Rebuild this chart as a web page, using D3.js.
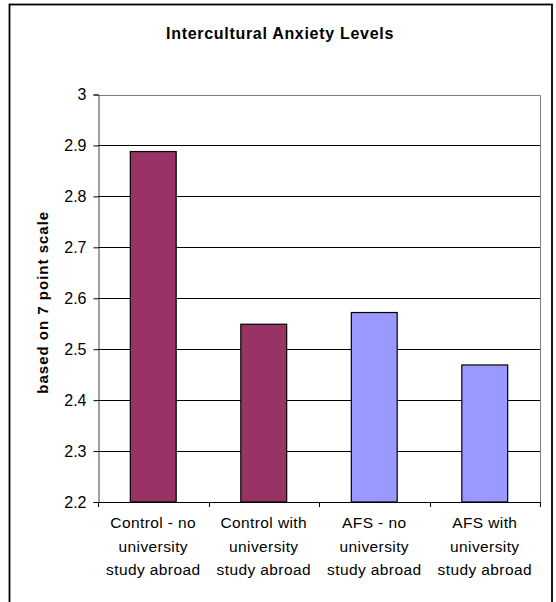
<!DOCTYPE html>
<html>
<head>
<meta charset="utf-8">
<script src="https://cdn.jsdelivr.net/npm/d3@7"></script>
<style>
  html, body { margin: 0; padding: 0; background: #fff; }
  svg { display: block; font-family: Arial, "Liberation Sans", sans-serif; }
</style>
</head>
<body>
<svg id="chart" width="556" height="602"></svg>
<script>
// Intercultural anxiety, mean score per group (7-point scale)
const categories = [
  ["Control - no", "university", "study abroad"],
  ["Control with", "university", "study abroad"],
  ["AFS - no", "university", "study abroad"],
  ["AFS with", "university", "study abroad"]
];
const values = [2.888, 2.549, 2.572, 2.469];
const barColors = ["#993366", "#993366", "#9999FF", "#9999FF"];
const yTicks = [2.2, 2.3, 2.4, 2.5, 2.6, 2.7, 2.8, 2.9, 3];
const title = "Intercultural Anxiety Levels";
const yTitle = "based on 7 point scale";

const svg = d3.select("#chart");
const plot = { left: 98, right: 540, top: 94.5, bottom: 502 };

// outer chart frame
svg.append("rect")
  .attr("x", 9.5).attr("y", 4.5)
  .attr("width", 542.5).attr("height", 620)
  .attr("fill", "#fff").attr("stroke", "#000").attr("stroke-width", 1.8);

const keys = categories.map((d, i) => i);
const xCat = d3.scaleBand().domain(keys).range([plot.left, plot.right]);
const xBar = d3.scaleBand().domain(keys).range([plot.left, plot.right])
  .paddingInner(0.585).paddingOuter(0.2925);
const y = d3.scaleLinear().domain([2.2, 3]).range([plot.bottom, plot.top]);

// gridlines
svg.append("g").selectAll("line").data(yTicks.filter(t => t > 2.2 && t < 3)).join("line")
  .attr("x1", plot.left).attr("x2", plot.right)
  .attr("y1", d => Math.round(y(d)) + 0.5).attr("y2", d => Math.round(y(d)) + 0.5)
  .attr("stroke", "#000").attr("stroke-width", 1);

// plot area border (top & right)
svg.append("path")
  .attr("d", `M${plot.left},${Math.round(plot.top) + 0.5}H${plot.right + 0.5}V${plot.bottom}`)
  .attr("fill", "none").attr("stroke", "#808080").attr("stroke-width", 1);

// bars
svg.append("g").selectAll("rect").data(values).join("rect")
  .attr("x", (d, i) => xBar(i))
  .attr("width", xBar.bandwidth())
  .attr("y", d => y(d))
  .attr("height", d => y(2.2) - y(d))
  .attr("fill", (d, i) => barColors[i])
  .attr("stroke", "#000").attr("stroke-width", 1.2);

// y axis
const yAxis = d3.axisLeft(y).tickValues(yTicks).tickSize(5).tickPadding(7)
  .tickFormat(d => d3.format("")(+d.toFixed(1)));
const gy = svg.append("g").attr("transform", `translate(${plot.left + 0.5},0)`).call(yAxis);
gy.select(".domain").attr("stroke", "#404040");
gy.selectAll(".tick line").attr("stroke", "#000");
gy.selectAll(".tick text").attr("font-size", 16).attr("fill", "#000")
  .attr("font-family", "Arial, 'Liberation Sans', sans-serif");

// x axis line and category boundary ticks
const gx = svg.append("g");
gx.append("line")
  .attr("x1", plot.left).attr("x2", plot.right + 0.5)
  .attr("y1", plot.bottom + 0.5).attr("y2", plot.bottom + 0.5)
  .attr("stroke", "#000");
const bounds = keys.map(k => xCat(k)).concat([xCat(keys[keys.length - 1]) + xCat.bandwidth()]);
gx.selectAll("line.tk").data(bounds).join("line").attr("class", "tk")
  .attr("x1", d => Math.round(d) + 0.5).attr("x2", d => Math.round(d) + 0.5)
  .attr("y1", plot.bottom).attr("y2", plot.bottom + 5)
  .attr("stroke", "#000");

// category labels
const lab = gx.selectAll("text.cat").data(categories).join("text").attr("class", "cat")
  .attr("text-anchor", "middle").attr("font-size", 15.5).attr("fill", "#000")
  .attr("letter-spacing", 0.4)
  .attr("transform", (d, i) => `translate(${xCat(i) + xCat.bandwidth() / 2},${plot.bottom + 26})`);
lab.selectAll("tspan").data(d => d).join("tspan")
  .attr("x", 0).attr("dy", (d, j) => j === 0 ? 0 : 23.5).text(d => d);

// title
svg.append("text")
  .attr("x", 280).attr("y", 39)
  .attr("text-anchor", "middle").attr("font-size", 16).attr("font-weight", "bold")
  .attr("letter-spacing", 0.7)
  .text(title);

// y axis title
svg.append("text")
  .attr("transform", `translate(48,${(plot.top + plot.bottom) / 2 + 4}) rotate(-90)`)
  .attr("text-anchor", "middle").attr("font-size", 15).attr("font-weight", "bold")
  .attr("letter-spacing", 1)
  .text(yTitle);
</script>
</body>
</html>
